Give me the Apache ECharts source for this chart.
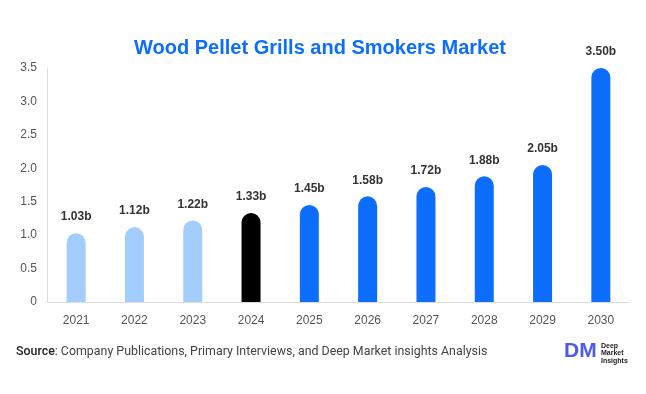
<!DOCTYPE html>
<html>
<head>
<meta charset="utf-8">
<script src="https://cdn.jsdelivr.net/npm/echarts@6/dist/echarts.min.js"></script>
<style>html,body{margin:0;padding:0;background:#fff}#c{width:646px;height:394px}</style>
</head>
<body>
<div id="c"></div>
<script>
const years = ['2021','2022','2023','2024','2025','2026','2027','2028','2029','2030'];
const values = [1.03, 1.12, 1.22, 1.33, 1.45, 1.58, 1.72, 1.88, 2.05, 3.50];
const barColors = ['#a3cdfd','#a3cdfd','#a3cdfd','#000000','#0d6efd','#0d6efd','#0d6efd','#0d6efd','#0d6efd','#0d6efd'];
const yTicks = [0, 0.5, 1.0, 1.5, 2.0, 2.5, 3.0, 3.5];

const chart = echarts.init(document.getElementById('c'), null, {renderer:'canvas'});
chart.setOption({
  animation: false,
  backgroundColor: '#fff',
  title: {
    text: 'Wood Pellet Grills and Smokers Market',
    left: 129, top: 33,
    textStyle: {color:'#0d6efd', fontSize:20, fontWeight:'bold', fontFamily:'Liberation Sans, Arial, sans-serif'}
  },
  grid: {left: 47, right: 16, top: 68, bottom: 92, containLabel: false},
  xAxis: {
    type: 'category', data: years,
    axisLine: {show:true, lineStyle:{color:'#ddd'}},
    axisTick: {show:false},
    axisLabel: {color:'#555', fontSize:12, margin:13, fontFamily:'Liberation Sans, Arial, sans-serif'}
  },
  yAxis: {
    type: 'value', min: 0, max: 3.5, interval: 0.5,
    axisLine: {show:true, lineStyle:{color:'#ddd'}},
    axisTick: {show:false},
    splitLine: {show:false},
    axisLabel: {color:'#555', fontSize:12, margin:10, fontFamily:'Liberation Sans, Arial, sans-serif',
      formatter: v => (yTicks.indexOf(v) >= 0 ? (v === 0 ? '0' : v.toFixed(1)) : '')}
  },
  series: [{
    type: 'bar',
    barWidth: 19,
    data: values.map((v,i) => ({value:v, itemStyle:{color:barColors[i], borderRadius:[10,10,0,0]}})),
    label: {
      show: true, position: 'top', distance: 10,
      formatter: p => p.value.toFixed(2) + 'b',
      color: '#333', fontSize: 12, fontWeight: 'bold', fontFamily:'Liberation Sans, Arial, sans-serif'
    }
  }],
  graphic: [
    {
      type: 'text', left: 16, top: 346,
      style: {
        text: '{b|Source}: Company Publications, Primary Interviews, and Deep Market insights Analysis',
        rich: {b: {fontWeight: 500, fontSize: 12.4, fill: '#222', fontFamily:'Roboto, sans-serif'}},
        fontSize: 12.4, fill: '#444', fontFamily: 'Roboto, sans-serif'
      }
    },
    {
      type: 'text', left: 564, top: 341,
      style: {text: 'DM', fontSize: 21, fontWeight: 'bold', fill: '#4a5cf0', fontFamily:'Liberation Sans, Arial, sans-serif'}
    },
    {
      type: 'text', left: 601, top: 342,
      style: {text: 'Deep\nMarket\nInsights', fontSize: 7, lineHeight: 7.5, fontWeight: 'bold', fill: '#222', fontFamily:'Liberation Sans, Arial, sans-serif'}
    }
  ]
});
</script>
</body>
</html>
